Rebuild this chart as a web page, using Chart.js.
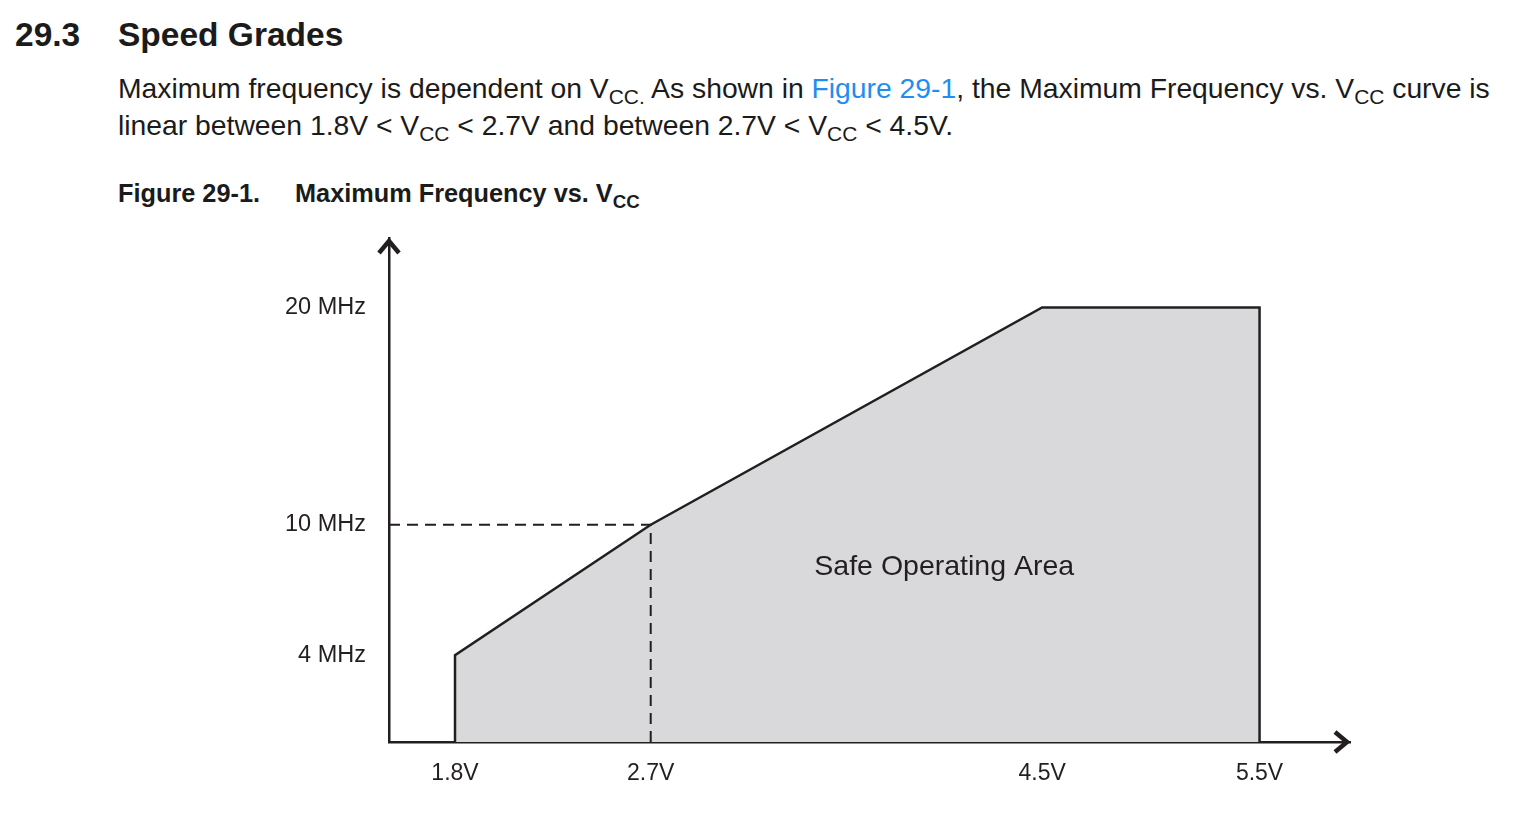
<!DOCTYPE html>
<html>
<head>
<meta charset="utf-8">
<title>Speed Grades</title>
<script src="https://cdn.jsdelivr.net/npm/chart.js@4.4.1/dist/chart.umd.min.js"></script>
<style>
body { margin:0; background:#fff; width:1514px; height:830px; overflow:hidden;
  font-family:"Liberation Sans", Arial, sans-serif; color:#1b1b1b; }
.t { position:absolute; white-space:nowrap; line-height:1; }
.h { font-size:33.5px; font-weight:bold; }
.p { font-size:28.3px; }
.c { font-size:25.3px; font-weight:bold; }
.lnk { color:#1e8ff0; }
sub { font-size:0.74em; vertical-align:-0.3em; line-height:0; }
#wrap { position:absolute; left:0; top:220px; width:1514px; height:610px; }
</style>
</head>
<body>

<div class="t h" style="left:15px;top:18px">29.3</div>
<div class="t h" style="left:118px;top:18px">Speed Grades</div>
<div class="t p" style="left:118px;top:74px">Maximum frequency is dependent on V<sub>CC.</sub> As shown in <span class="lnk">Figure 29-1</span>, the Maximum Frequency vs. V<sub>CC</sub> curve is</div>
<div class="t p" style="left:118px;top:111px">linear between 1.8V &lt; V<sub>CC</sub> &lt; 2.7V and between 2.7V &lt; V<sub>CC</sub> &lt; 4.5V.</div>
<div class="t c" style="left:118px;top:181px">Figure 29-1.</div>
<div class="t c" style="left:295px;top:181px">Maximum Frequency vs. V<sub>CC</sub></div>

<div id="wrap"><canvas id="chart1" width="1514" height="610"></canvas></div>

<script>
// data (volts / MHz)
var voltage = [1.8, 1.8, 2.7, 4.5, 5.5, 5.5];
var maxFreq = [0, 4, 10, 20, 20, 0];

// dashed guide lines at 2.7V / 10MHz
var guideVolt = [1.4964, 2.7, 2.7];
var guideFreq = [10, 10, 0];

var xTicks = [1.8, 2.7, 4.5, 5.5];
var xTickLabels = ["1.8V", "2.7V", "4.5V", "5.5V"];
var yTicks = [4, 10, 20];
var yTickLabels = ["4 MHz", "10 MHz", "20 MHz"];

var areaLabel = "Safe Operating Area";

var ink = "#231f20";

function toPoints(xs, ys) {
  var pts = [];
  for (var i = 0; i < xs.length; i++) {
    pts.push({x: xs[i], y: ys[i]});
  }
  return pts;
}

// arrows on the axes + the label inside the grey area
var extras = {
  id: "extras",
  afterDraw: function(chart) {
    var ctx = chart.ctx;
    var a = chart.chartArea;
    var xs = chart.scales.x, ys = chart.scales.y;
    ctx.save();
    ctx.strokeStyle = ink;
    ctx.lineWidth = 4.5;
    ctx.lineJoin = "miter";
    ctx.beginPath();
    ctx.moveTo(a.left - 10, a.top + 15);
    ctx.lineTo(a.left, a.top + 3);
    ctx.lineTo(a.left + 10, a.top + 15);
    ctx.stroke();
    ctx.beginPath();
    ctx.moveTo(a.right - 15, a.bottom - 10);
    ctx.lineTo(a.right - 3, a.bottom);
    ctx.lineTo(a.right - 15, a.bottom + 10);
    ctx.stroke();

    ctx.fillStyle = ink;
    ctx.font = '28.5px "Liberation Sans", Arial, sans-serif';
    ctx.textAlign = "center";
    ctx.textBaseline = "middle";
    ctx.fillText(areaLabel, xs.getPixelForValue(4.05), ys.getPixelForValue(8.05));
    ctx.restore();
  }
};

var config = {
  type: "scatter",
  data: {
    datasets: [{
      label: "guide",
      data: toPoints(guideVolt, guideFreq),
      showLine: true,
      borderColor: ink,
      borderWidth: 2,
      borderDash: [11, 7],
      pointRadius: 0,
      fill: false,
      clip: false
    }, {
      label: "Maximum frequency",
      data: toPoints(voltage, maxFreq),
      showLine: true,
      borderColor: ink,
      borderWidth: 2.5,
      backgroundColor: "#d9d8da",
      pointRadius: 0,
      fill: "origin",
      tension: 0,
      clip: false
    }]
  },
  options: {
    responsive: false,
    animation: false,
    layout: { padding: { left: 0, right: 164, top: 18, bottom: 0 } },
    plugins: { legend: { display: false }, tooltip: { enabled: false } },
    scales: {
      x: {
        type: "linear",
        min: 1.4964,
        max: 5.916,
        grid: { display: false },
        border: { display: true, color: ink, width: 2.5 },
        afterBuildTicks: function(s) {
          s.ticks = xTicks.map(function(v) { return {value: v}; });
        },
        afterFit: function(s) {
          s.height = 88;
          s.paddingLeft = 0;
          s.paddingRight = 0;
        },
        ticks: {
          autoSkip: false,
          maxRotation: 0,
          padding: 10,
          color: ink,
          font: { family: "Liberation Sans", size: 23 },
          callback: function(v) { return xTickLabels[xTicks.indexOf(v)]; }
        }
      },
      y: {
        type: "linear",
        min: 0,
        max: 23.2,
        grid: { display: false },
        border: { display: true, color: ink, width: 2.5 },
        afterBuildTicks: function(s) {
          s.ticks = yTicks.map(function(v) { return {value: v}; });
        },
        afterFit: function(s) {
          s.width = 389;
          s.paddingTop = 0;
          s.paddingBottom = 0;
        },
        ticks: {
          autoSkip: false,
          padding: 15,
          color: ink,
          font: { family: "Liberation Sans", size: 23.5 },
          callback: function(v) { return yTickLabels[yTicks.indexOf(v)]; }
        }
      }
    }
  },
  plugins: [extras]
};

var ctx1 = document.getElementById("chart1");
var myChart = new Chart(ctx1, config);
</script>
</body>
</html>
